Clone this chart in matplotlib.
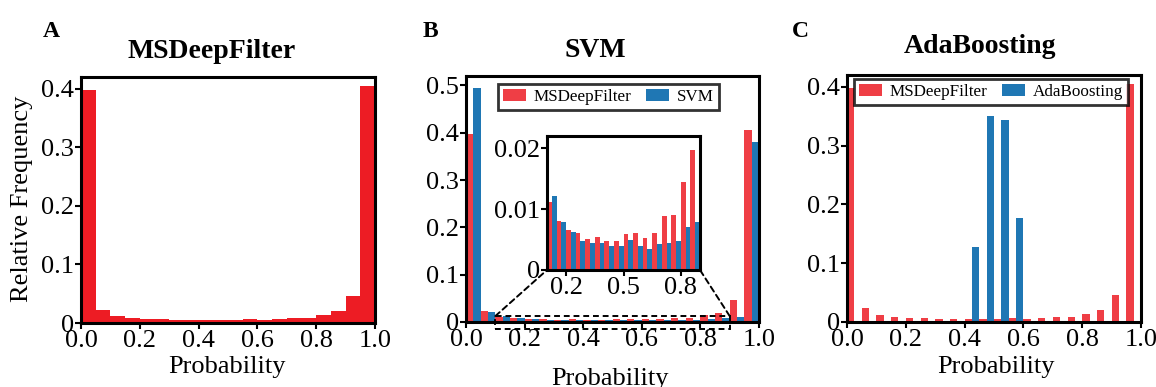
import numpy as np
import matplotlib
matplotlib.use("Agg")
import matplotlib.pyplot as plt
from matplotlib.patches import Rectangle, ConnectionPatch

plt.rcParams['font.family'] = ['Liberation Serif', 'DejaVu Serif']

# ---------------- data ----------------
bin_edges = np.linspace(0.0, 1.0, 21)
msdeep = [0.398, 0.023, 0.0111, 0.0081, 0.0065, 0.0060, 0.0051, 0.0055, 0.0048, 0.0048,
          0.0059, 0.0061, 0.0053, 0.0061, 0.0088, 0.0090, 0.0144, 0.0197, 0.046, 0.405]
svm = [0.495, 0.021, 0.0121, 0.0078, 0.0063, 0.0047, 0.0044, 0.0045, 0.0040, 0.0040,
       0.0050, 0.0040, 0.0035, 0.0043, 0.0044, 0.0048, 0.0070, 0.0079, 0.011, 0.381]
ada = [0, 0, 0, 0, 0, 0, 0, 0, 0.127, 0.350, 0.344, 0.176, 0, 0, 0, 0, 0, 0, 0, 0]

x_ticks = [0.0, 0.2, 0.4, 0.6, 0.8, 1.0]
x_ticklabels = ['0.0', '0.2', '0.4', '0.6', '0.8', '1.0']
yA_ticks = [0, 0.1, 0.2, 0.3, 0.4]
yA_labels = ['0', '0.1', '0.2', '0.3', '0.4']
yB_ticks = [0, 0.1, 0.2, 0.3, 0.4, 0.5]
yB_labels = ['0', '0.1', '0.2', '0.3', '0.4', '0.5']
ins_xticks = [0.2, 0.5, 0.8]
ins_xlabels = ['0.2', '0.5', '0.8']
ins_yticks = [0, 0.01, 0.02]
ins_ylabels = ['0', '0.01', '0.02']

RED_A = '#ED1C24'
RED = '#EF3E45'
BLUE = '#1F77B4'

W, H = 1156, 387
fig = plt.figure(figsize=(W / 100, H / 100), dpi=100)


def px_axes(x0, y0, x1, y1):
    return fig.add_axes([x0 / W, 1 - y1 / H, (x1 - x0) / W, (y1 - y0) / H])


def style(ax, lw=2.2, fs=19):
    for s in ax.spines.values():
        s.set_linewidth(lw)
        s.set_color('black')
    ax.tick_params(direction='out', length=4, width=1.5, labelsize=fs, pad=1)


lefts = bin_edges[:-1]
bw = bin_edges[1] - bin_edges[0]

# ---------- Panel A ----------
axA = px_axes(81, 77, 375, 323)
axA.bar(lefts, msdeep, width=bw, align='edge', color=RED_A, linewidth=0)
axA.set_xlim(0, 1)
axA.set_ylim(0, 0.42)
axA.set_xticks(x_ticks)
axA.set_xticklabels(x_ticklabels)
axA.set_yticks(yA_ticks)
axA.set_yticklabels(yA_labels)
style(axA)

# ---------- Panel B ----------
axB = px_axes(466, 76, 759, 322)
axB.bar(lefts, msdeep, width=bw / 2, align='edge', color=RED, linewidth=0, label='MSDeepFilter')
axB.bar(lefts + bw / 2, svm, width=bw / 2, align='edge', color=BLUE, linewidth=0, label='SVM')
axB.set_xlim(0, 1)
axB.set_ylim(0, 0.52)
axB.set_xticks(x_ticks)
axB.set_xticklabels(x_ticklabels)
axB.set_yticks(yB_ticks)
axB.set_yticklabels(yB_labels)
style(axB)
legB = axB.legend(loc='upper center', bbox_to_anchor=(0.486, 0.967), ncol=2, fontsize=12.3,
                  frameon=True, fancybox=False, edgecolor='black', borderaxespad=0,
                  handlelength=1.35, handleheight=0.7, handletextpad=0.45,
                  columnspacing=0.85, borderpad=0.3)
legB.get_frame().set_linewidth(2)

# inset
axI = px_axes(547, 136, 700, 270)
axI.bar(lefts, msdeep, width=bw / 2, align='edge', color=RED, linewidth=0)
axI.bar(lefts + bw / 2, svm, width=bw / 2, align='edge', color=BLUE, linewidth=0)
axI.set_xlim(0.1, 0.9)
axI.set_ylim(0, 0.022)
axI.set_xticks(ins_xticks)
axI.set_xticklabels(ins_xlabels)
axI.set_yticks(ins_yticks)
axI.set_yticklabels(ins_ylabels)
style(axI, lw=2.2, fs=19)

rect = Rectangle((0.1, -0.0145), 0.8, 0.027, fill=False, linestyle=(0, (3, 2)),
                 linewidth=1.4, edgecolor='black', clip_on=False, zorder=5)
axB.add_patch(rect)
for xa, xi in [(0.1, 0.0), (0.9, 1.0)]:
    con = ConnectionPatch(xyA=(xa, 0.0125), coordsA=axB.transData,
                          xyB=(xi, 0.0), coordsB=axI.transAxes,
                          linestyle=(0, (3, 2)), linewidth=1.4, color='black')
    fig.add_artist(con)

# ---------- Panel C ----------
axC = px_axes(847, 75, 1141, 322)
axC.bar(lefts, msdeep, width=bw / 2, align='edge', color=RED, linewidth=0, label='MSDeepFilter')
axC.bar(lefts + bw / 2, ada, width=bw / 2, align='edge', color=BLUE, linewidth=0, label='AdaBoosting')
axC.set_xlim(0, 1)
axC.set_ylim(0, 0.42)
axC.set_xticks(x_ticks)
axC.set_xticklabels(x_ticklabels)
axC.set_yticks(yA_ticks)
axC.set_yticklabels(yA_labels)
style(axC)
legC = axC.legend(loc='upper center', bbox_to_anchor=(0.49, 0.984), ncol=2, fontsize=12.3,
                  frameon=True, fancybox=False, edgecolor='black', borderaxespad=0,
                  handlelength=1.35, handleheight=0.7, handletextpad=0.45,
                  columnspacing=0.85, borderpad=0.3)
legC.get_frame().set_linewidth(2)

# ---------- texts ----------
def ftext(x, y, s, **kw):
    fig.text(x / W, 1 - y / H, s, **kw)

ftext(43, 37, 'A', fontsize=17, fontweight='bold', ha='left', va='baseline')
ftext(423, 37, 'B', fontsize=17, fontweight='bold', ha='left', va='baseline')
ftext(792, 37, 'C', fontsize=17, fontweight='bold', ha='left', va='baseline')

ftext(212, 58, 'MSDeepFilter', fontsize=20, fontweight='bold', ha='center', va='baseline')
ftext(595, 57, 'SVM', fontsize=20, fontweight='bold', ha='center', va='baseline')
ftext(980, 53, 'AdaBoosting', fontsize=20, fontweight='bold', ha='center', va='baseline')

ftext(227, 373, 'Probability', fontsize=19, ha='center', va='baseline')
ftext(610, 385, 'Probability', fontsize=19, ha='center', va='baseline')
ftext(996, 373, 'Probability', fontsize=19, ha='center', va='baseline')
ftext(22, 199, 'Relative Frequency', fontsize=19, ha='center', va='center', rotation=90)

fig.savefig('out.png', dpi=100)
